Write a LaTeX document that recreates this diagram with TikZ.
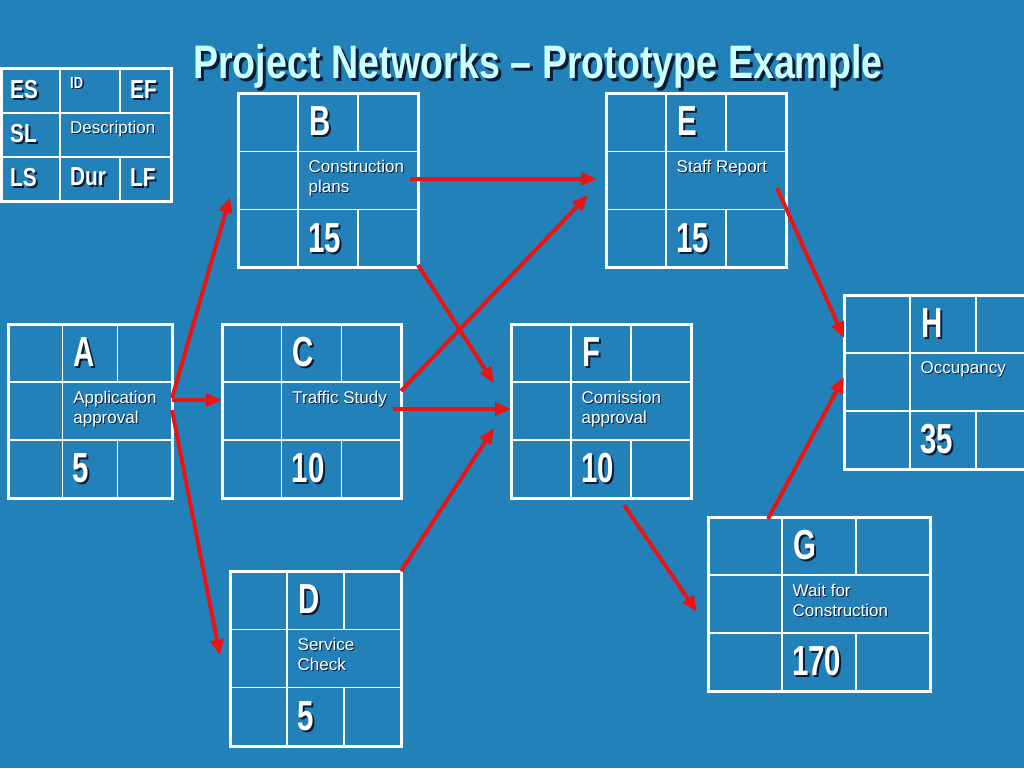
\documentclass[tikz,border=0pt]{standalone}
\usepackage{fontspec}
\setmainfont{Liberation Sans}
\newfontfamily\condf{Liberation Sans}[FakeStretch=0.8]
\newfontfamily\condn{Liberation Sans}[FakeStretch=0.7]
\usetikzlibrary{arrows.meta}
\definecolor{bg}{RGB}{35,129,185}
\definecolor{titlec}{RGB}{204,255,255}
\definecolor{shadowc}{RGB}{12,28,55}
\definecolor{arrowc}{RGB}{235,20,20}
\newcommand\shd[2]{\leavevmode\rlap{\kern#1\raisebox{-#1}{\textcolor{shadowc}{#2}}}#2}
\tikzset{
  outerbox/.style={draw=white, line width=3pt, inner sep=0pt, outer sep=0pt},
  gridline/.style={draw=white, line width=1.5pt},
  idtxt/.style={text=white, font=\condn\bfseries\fontsize{42}{44}\selectfont, inner sep=0pt},
  desctxt/.style={text=white, font=\fontsize{17}{20.5}\selectfont, inner sep=0pt, align=left},
  legtxt/.style={text=white, font=\condf\bfseries\fontsize{26}{28}\selectfont, inner sep=0pt},
  titletxt/.style={text=titlec, font=\condf\bfseries\fontsize{47}{50}\selectfont, inner sep=0pt},
  arr/.style={draw=arrowc, line width=4pt, -{Triangle[length=16pt,width=13pt]}},
}
% #1 name, #2 x, #3 y, #4 column width, #5 row height, #6 id, #7 description, #8 duration
\newcommand\actbox[8]{%
  \pgfmathsetmacro\xa{#2+#4}\pgfmathsetmacro\xb{#2+2*#4}\pgfmathsetmacro\xc{#2+3*#4}%
  \pgfmathsetmacro\ya{#3+#5}\pgfmathsetmacro\yb{#3+2*#5}\pgfmathsetmacro\yc{#3+3*#5}%
  \node[outerbox, anchor=north west, minimum width={3*#4*1pt}, minimum height={3*#5*1pt}] (#1) at (#2,#3) {};
  \draw[gridline] (\xa,#3) -- (\xa,\yc) (#2,\ya) -- (\xc,\ya) (#2,\yb) -- (\xc,\yb)
    (\xb,#3) -- (\xb,\ya) (\xb,\yb) -- (\xb,\yc);
  \node[idtxt, anchor=west] (#1-id) at (\xa+11,{#3+#5/2}) {\shd{2pt}{#6}};
  \node[desctxt, anchor=north west] (#1-desc) at (\xa+10.5,\ya+8.5) {#7};
  \node[idtxt, anchor=west] (#1-dur) at (\xa+10,{#3+2.5*#5}) {\shd{2pt}{#8}};
}
\begin{document}
\begin{tikzpicture}[x=1pt, y=-1pt]
\useasboundingbox (0,0) rectangle (1024,768);
\clip (0,0) rectangle (1024,768);
\fill[bg] (0,0) rectangle (1024,768);

\node[titletxt, anchor=base] (title) at (538,78) {\shd{3pt}{Project Networks – Prototype Example}};

% legend
\node[outerbox, anchor=north west, minimum width=170pt, minimum height=133pt] (legend) at (1,68) {};
\draw[gridline] (60,68) -- (60,201) (1,113) -- (171,113) (1,157) -- (171,157)
  (120,68) -- (120,113) (120,157) -- (120,201);
\node[legtxt, anchor=west] (l-es) at (10,91) {\shd{2pt}{ES}};
\node[legtxt, anchor=west] (l-ef) at (130,91) {\shd{2pt}{EF}};
\node[legtxt, anchor=west] (l-sl) at (10,135) {\shd{2pt}{SL}};
\node[legtxt, anchor=west] (l-ls) at (10,179) {\shd{2pt}{LS}};
\node[legtxt, anchor=west] (l-lf) at (130,179) {\shd{2pt}{LF}};
\node[legtxt, anchor=west] (l-dur) at (70,178) {\shd{2pt}{Dur}};
\node[text=white, font=\condf\bfseries\fontsize{16}{18}\selectfont, inner sep=0pt, anchor=north west] (l-id) at (70,77) {\shd{1.5pt}{ID}};
\node[desctxt, anchor=north west] (l-desc) at (70,121) {\shd{1pt}{Description}};

% activities
\actbox{A}{8}{324}{54.67}{58}{A}{\shd{1pt}{Application}\\\shd{1pt}{approval}}{5}
\actbox{B}{238}{93}{60}{58.33}{B}{\shd{1pt}{Construction}\\\shd{1pt}{plans}}{15}
\actbox{C}{222}{324}{59.67}{58}{C}{\shd{1pt}{Traffic Study}}{10}
\actbox{D}{230}{571}{57}{58.33}{D}{\shd{1pt}{Service}\\\shd{1pt}{Check}}{5}
\actbox{E}{606}{93}{60}{58.33}{E}{\shd{1pt}{Staff Report}}{15}
\actbox{F}{511}{324}{60}{58}{F}{\shd{1pt}{Comission}\\\shd{1pt}{approval}}{10}
\actbox{G}{708}{517}{74}{58}{G}{\shd{1pt}{Wait for}\\\shd{1pt}{Construction}}{170}
\actbox{H}{844}{295}{66}{58}{H}{\shd{1pt}{Occupancy}}{35}

% connectors
\draw[arr] ([yshift=13pt]A.east) -- ([xshift=-8pt,yshift=-16.5pt]B.west);
\draw[arr] ([yshift=11pt]A.east) -- ([yshift=11pt]C.west);
\draw[arr] ([yshift=1pt]A.east) -- ([xshift=-10pt,yshift=3pt]D.west);
\draw[arr] ([yshift=3pt]B.south east) -- ([xshift=-17pt,yshift=28pt]F.west);
\draw[arr] ([xshift=-8pt,yshift=1.5pt]B.east) -- ([xshift=-9pt,yshift=1.5pt]E.west);
\draw[arr] ([yshift=20pt]C.east) -- ([xshift=-18pt,yshift=-14.5pt]E.west);
\draw[arr] ([xshift=-8pt,yshift=2pt]C.east) -- ([yshift=2pt]F.west);
\draw[arr] (D.north east) -- ([xshift=-17pt,yshift=-17pt]F.west);
\draw[arr] ([xshift=-9pt,yshift=-7.5pt]E.east) -- ([yshift=44pt]H.west);
\draw[arr] ([xshift=23pt,yshift=-7pt]F.south) -- ([xshift=-11pt,yshift=-8pt]G.west);
\draw[arr] ([xshift=-51pt,yshift=-2pt]G.north) -- ([yshift=5pt]H.west);
\end{tikzpicture}
\end{document}
